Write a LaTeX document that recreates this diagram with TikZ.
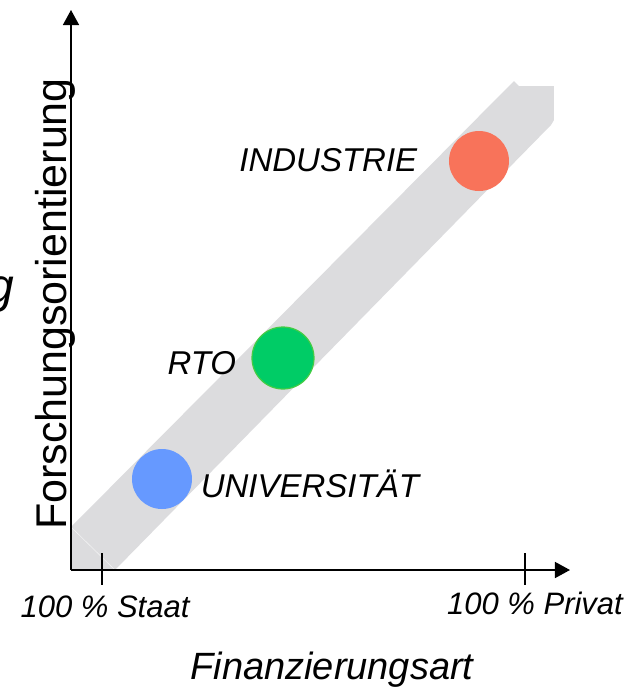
\documentclass[tikz,border=0pt]{standalone}
\usepackage{fontspec}
\setsansfont{Liberation Sans}
\usetikzlibrary{arrows.meta,positioning}
\definecolor{INK}{HTML}{000000}
\definecolor{BAND}{HTML}{DCDCDE}
\definecolor{IND}{HTML}{F8735A}
\definecolor{RTOC}{HTML}{00CC66}
\definecolor{RTOE}{HTML}{44CC44}
\definecolor{UNI}{HTML}{6699FF}

\begin{document}
\begin{tikzpicture}[
  x=0.5pt, y=0.5pt,
  font=\sffamily,
  dot/.style={circle, minimum size=30pt, inner sep=0pt},
  lab/.style={font=\sffamily\itshape\fontsize{16.5}{18}\selectfont, text=INK, inner sep=0pt},
  ticklab/.style={font=\sffamily\itshape\fontsize{15.5}{18}\selectfont, text=INK, inner sep=0pt, anchor=base},
  axis/.style={line width=0.75pt, -{Triangle[length=7.5pt, width=8pt]}},
  tick/.style={line width=0.75pt},
]
\useasboundingbox (0,0) rectangle (644,-693);
\clip (0,0) rectangle (644,-693);

% grey band behind everything
\fill[BAND] (71,-527) -- (514,-81) -- (519,-86) -- (554,-86) -- (554,-120)
  -- (551,-125) -- (115,-570) -- (71,-570) -- cycle;
\draw[white, opacity=0.6, line width=0.3pt] (71,-527) -- (115,-570);

% axes
\coordinate (o) at (71,-570);
\coordinate (ytop) at (71,-10);
\coordinate (xend) at (570,-570);
\draw[axis] (o) -- (ytop);
\draw[axis] (o) -- (xend);

% ticks
\coordinate (staat) at (102,-570);
\coordinate (privat) at (525,-570);
\draw[tick] ([yshift=8.5pt]staat) -- ([yshift=-7.5pt]staat);
\draw[tick] ([yshift=8.5pt]privat) -- ([yshift=-7.5pt]privat);

% axis labels
\node[ticklab] (lstaat) at (105,-617) {100 \% Staat};
\node[ticklab] (lprivat) at (535,-614) {100 \% Privat};
\node[ticklab, font=\sffamily\itshape\fontsize{19}{22}\selectfont] (xlab) at (332,-679) {Finanzierungsart};
\node[rotate=90, anchor=base, inner sep=0pt, text=INK,
  font=\sffamily\fontsize{21.5}{24}\selectfont] (ylab) at (67,-304) {Forschungsorientierung};
\node[lab, anchor=base east, font=\sffamily\itshape\fontsize{24}{26}\selectfont] (cut) at (15,-302) {g};

% the three actors
\node[dot, fill=IND] (ind) at (479,-161) {};
\node[dot, fill=RTOC, draw=RTOE, line width=0.6pt, minimum size=31pt] (rto) at (283,-358) {};
\node[dot, fill=UNI] (uni) at (162,-479) {};

\node[lab, anchor=base east, xshift=-15.5pt, yshift=-5pt] (tind) at (ind.west) {INDUSTRIE};
\node[lab, anchor=base east, xshift=-7.5pt, yshift=-8pt] (trto) at (rto.west) {RTO};
\node[lab, anchor=base west, xshift=4pt, yshift=-9pt] (tuni) at (uni.east) {UNIVERSITÄT};

\end{tikzpicture}
\end{document}
